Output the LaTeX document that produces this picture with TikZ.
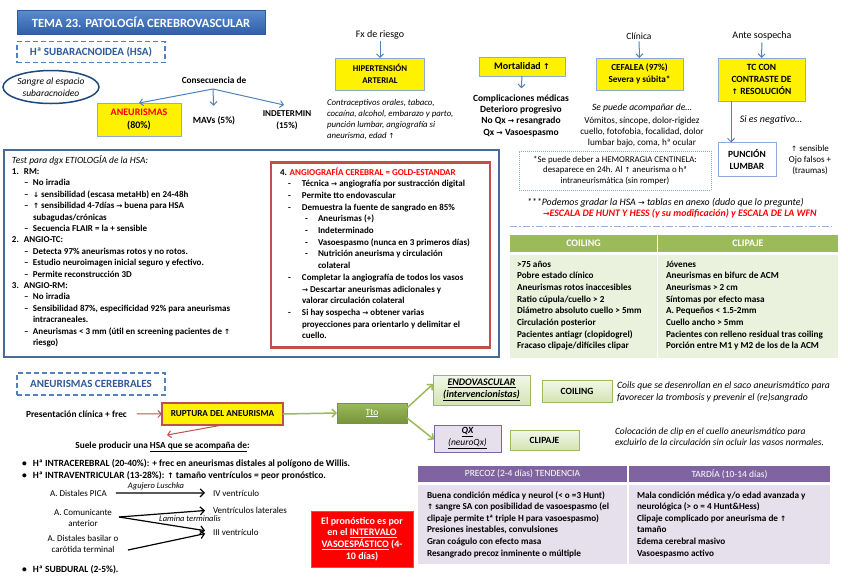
\documentclass[tikz,border=0pt]{standalone}
\usepackage{fontspec}
\usepackage{graphicx}
\setmainfont{Carlito}
\newfontfamily\symf{DejaVu Sans}
\usetikzlibrary{arrows.meta,shapes.geometric}
\newcommand\fs[2]{\fontsize{#1}{#2}\selectfont}
\newcommand\ua{{\symf\scalebox{0.8}{↑}}}
\newcommand\ra{{\symf\scalebox{0.8}{→}}}
\newcommand\da{{\symf\scalebox{0.8}{↓}}}
\newcommand\dsh{\makebox[9pt][l]{–}}
\newcommand\hy{\makebox[14pt][l]{-}}
\newcommand\hyb{\makebox[13pt][l]{-}}
\definecolor{ablue}{HTML}{4F81BD}
\definecolor{dblue}{HTML}{1F497D}
\definecolor{hblue}{HTML}{2E5A9C}
\definecolor{tb1}{HTML}{5B8BD0}
\definecolor{tb2}{HTML}{2F5FA8}
\definecolor{ybord}{HTML}{8EAADB}
\definecolor{rbord}{HTML}{C0504D}
\definecolor{boxc}{HTML}{4A6A9A}
\definecolor{gh}{HTML}{9BBB59}
\definecolor{gb}{HTML}{EAF1DD}
\definecolor{gl1}{HTML}{F2F7E8}
\definecolor{gl2}{HTML}{D4E4B3}
\definecolor{ph}{HTML}{8064A2}
\definecolor{pb}{HTML}{E5E0EC}
\definecolor{tto}{HTML}{77933C}
\begin{document}
\begin{tikzpicture}[x=1pt,y=-1pt,
  every node/.style={inner sep=0pt,outer sep=0pt},
  bt/.style={font=\fs{9}{11.5}\bfseries},
  tbt/.style={font=\fs{9.2}{11.5}\bfseries},
  rt/.style={font=\fs{9.2}{11}},
  it/.style={font=\fs{8.8}{10}\itshape},
  L/.style={anchor=base west},
  C/.style={anchor=base},
  ybx/.style={draw=ybord, fill=yellow, line width=0.8pt, align=center},
  dbox/.style={draw=ablue, line width=1.5pt, dash pattern=on 5pt off 3pt, text=hblue, font=\fs{11}{13}\bfseries},
  gbx/.style={draw=gh, line width=0.8pt, top color=gl1, bottom color=gl2, align=center},
  barr/.style={-{Straight Barb[length=3.5pt,width=7pt]}, draw=ablue, line width=1pt},
  rarr/.style={-{Straight Barb[length=3.5pt,width=7pt]}, draw=rbord, line width=1pt},
  garr/.style={-{Straight Barb[length=4pt,width=8pt]}, draw=gh, line width=1.5pt},
  karr/.style={-{Straight Barb[length=4pt,width=8pt]}, draw=black, line width=1.2pt},
  dt/.style={font=\fs{9}{11}}]
\fill[white] (0,0) rectangle (848,587);
\useasboundingbox (0,0) rectangle (848,587);

% ---------- header ----------
\node[draw=hblue, line width=0.8pt, top color=tb1, bottom color=tb2, text=white,
  minimum width=248, minimum height=24, font=\fs{12.5}{14}\bfseries] (title) at (141,22) {TEMA 23. PATOLOGÍA CEREBROVASCULAR};
\node[dbox, minimum width=148, minimum height=21] (hsa) at (91,52) {Hª SUBARACNOIDEA (HSA)};
\node[ellipse, draw=dblue, line width=1.5pt, inner xsep=-8pt, inner ysep=-2pt, minimum width=96, minimum height=33, align=center,
  font=\fs{9.5}{12}\itshape] (sangre) at (51,87) {Sangre al espacio\\subaracnoideo};

% ---------- consecuencia ----------
\node[font=\fs{9.3}{11}\bfseries] (cons) at (214,80) {Consecuencia de};
\coordinate (hub) at (213,89);
\node[ybx, minimum width=84, minimum height=33, font=\fs{10}{13}\bfseries] (aneu) at (139,119.5) {\textcolor{red}{ANEURISMAS}\\(80\%)};
\node[font=\fs{9.5}{11}\bfseries] (mavs) at (214,121) {MAVs (5\%)};
\node[align=center, font=\fs{9}{12.5}\bfseries] (indet) at (287,120.5) {INDETERMIN\\(15\%)};
\coordinate (indtip) at (284,105);
\draw[barr] (hub) -- (aneu.north);
\draw[barr, shorten >=11pt] (hub) -- (mavs.north);
\draw[barr] (hub) -- (indtip);

% ---------- factores ----------
\node[font=\fs{10}{11}] (fx) at (380,35) {Fx de riesgo};
\node[ybx, minimum width=89, minimum height=32, font=\fs{8.8}{12}\bfseries] (hta) at (380,74) {HIPERTENSIÓN\\ARTERIAL};
\draw[barr, shorten <=2pt] (fx.south) -- (hta.north);
\node[L, it] (h1) at (327,105) {Contraceptivos orales, tabaco,};
\node[L, it] (h2) at (327,116) {cocaína, alcohol, embarazo y parto,};
\node[L, it] (h3) at (327,127) {punción lumbar, angiografía si};
\node[L, it] (h4) at (327,138) {aneurisma, edad \ua};

\node[ybx, minimum width=86, minimum height=19, font=\fs{10}{11}\bfseries] (mort) at (522,66.5) {Mortalidad \ua};
\node[C, font=\fs{9.5}{11}\bfseries] (c1) at (521,101) {Complicaciones médicas};
\node[C, font=\fs{9.5}{11}\bfseries] (c2) at (521,112.3) {Deterioro progresivo};
\node[C, font=\fs{9.5}{11}\bfseries] (c3) at (521,123.6) {No Qx \ra{} resangrado};
\node[C, font=\fs{9.5}{11}\bfseries] (c4) at (521,135) {Qx \ra{} Vasoespasmo};
\draw[barr, shorten >=6pt] (mort.south) -- (c1.north);

\node[font=\fs{9.5}{11}] (clin) at (639,36) {Clínica};
\node[ybx, minimum width=87, minimum height=32, font=\fs{9.2}{12}\bfseries] (cef) at (639.5,74) {CEFALEA (97\%)\\Severa y súbita*};
\draw[barr, shorten <=2pt] (clin.south) -- (cef.north);
\node[C, font=\fs{9.6}{11}\itshape] (acomp) at (642,110) {Se puede acompañar de…};
\node[C, rt] (v1) at (642,123) {Vómitos, síncope, dolor-rigidez};
\node[C, rt] (v2) at (642,134) {cuello, fotofobia, focalidad, dolor};
\node[C, rt] (v3) at (642,145) {lumbar bajo, coma, hª ocular};

\node[font=\fs{10}{11}] (ante) at (762,36) {Ante sospecha};
\node[ybx, minimum width=87, minimum height=43, font=\fs{9.5}{12}\bfseries] (tc) at (761.5,79.5) {TC CON\\CONTRASTE DE\\\ua{} RESOLUCIÓN};
\draw[barr, shorten <=2pt] (ante.south) -- (tc.north);
\node[font=\fs{10}{11}\itshape] (neg) at (771,120) {Si es negativo…};
\node[draw=ybord, line width=1pt, fill=white, minimum width=58, minimum height=34, align=center,
  font=\fs{9.5}{12.5}\bfseries] (pl) at (747,159.5) {PUNCIÓN\\LUMBAR};
\coordinate (tcb) at (731,101);
\draw[barr] (tcb) -- (tcb |- pl.north);
\node[align=center, font=\fs{9}{10.7}] (sens) at (810,160) {\ua{} sensible\\Ojo falsos +\\(traumas)};

\node[draw=ablue!70, line width=1pt, dash pattern=on 1pt off 1pt, minimum width=192, minimum height=39,
  align=center, font=\fs{8.8}{10.5}] (cent) at (615,170.5) {*Se puede deber a HEMORRAGIA CENTINELA:\\desaparece en 24h. Al \ua{} aneurisma o hª\\intraneurismática (sin romper)};
\node[L, font=\fs{9.9}{11}\itshape] (grad) at (527,205) {***Podemos gradar la HSA \ra{} tablas en anexo (dudo que lo pregunte)};
\node[L, font=\fs{9.9}{11}\bfseries\itshape, text=red] (esc) at (543,216.5) {\ra ESCALA DE HUNT Y HESS (y su modificación) y ESCALA DE LA WFN};
\coordinate (dd1) at (510,226); \coordinate (dd2) at (832,226);
\draw[ablue!60, line width=1pt, dash pattern=on 7pt off 2pt on 2pt off 2pt] (dd1) -- (dd2);

% ---------- coiling / clipaje table ----------
\node[fill=gh, minimum width=147, minimum height=17, text=white, font=\fs{10}{11}\bfseries] (coilh) at (583.5,243.5) {COILING};
\node[fill=gh, minimum width=180, minimum height=17, text=white, font=\fs{10}{11}\bfseries] (cliph) at (748,243.5) {CLIPAJE};
\node[fill=gb, minimum width=147, minimum height=103] (coilb) at (583.5,306.5) {};
\node[fill=gb, minimum width=180, minimum height=103] (clipb) at (748,306.5) {};
\node[L, tbt] (g1) at (517,267) {>75 años};
\node[L, tbt] (g2) at (517,278.7) {Pobre estado clínico};
\node[L, tbt] (g3) at (517,290.4) {Aneurismas rotos inaccesibles};
\node[L, tbt] (g4) at (517,302.1) {Ratio cúpula/cuello > 2};
\node[L, tbt] (g5) at (517,313.8) {Diámetro absoluto cuello > 5mm};
\node[L, tbt] (g6) at (517,325.5) {Circulación posterior};
\node[L, tbt] (g7) at (517,337.2) {Pacientes antiagr (clopidogrel)};
\node[L, tbt] (g8) at (517,348.9) {Fracaso clipaje/difíciles clipar};
\node[L, tbt] (k1) at (666,267) {Jóvenes};
\node[L, tbt] (k2) at (666,278.7) {Aneurismas en bifurc de ACM};
\node[L, tbt] (k3) at (666,290.4) {Aneurismas > 2 cm};
\node[L, tbt] (k4) at (666,302.1) {Síntomas por efecto masa};
\node[L, tbt] (k5) at (666,313.8) {A. Pequeños < 1.5-2mm};
\node[L, tbt] (k6) at (666,325.5) {Cuello ancho > 5mm};
\node[L, tbt] (k7) at (666,337.2) {Pacientes con relleno residual tras coiling};
\node[L, tbt] (k8) at (666,348.9) {Porción entre M1 y M2 de los de la ACM};

% ---------- test box ----------
\node[draw=boxc, line width=1.7pt, minimum width=495, minimum height=207] (testbox) at (251.5,253.5) {};
\node[L, font=\fs{9.5}{11}\itshape] (t0) at (12,163) {Test para dgx ETIOLOGÍA de la HSA:};
\node[L, bt] (t1) at (12,174.4) {\makebox[12pt][l]{1.}RM:};
\node[L, bt] (t2) at (24,185.8) {\dsh No irradia};
\node[L, bt] (t3) at (24,197.2) {\dsh\da{} sensibilidad (escasa metaHb) en 24-48h};
\node[L, bt] (t4) at (24,208.6) {\dsh\ua{} sensibilidad 4-7días \ra{} buena para HSA};
\node[L, bt] (t5) at (33,220) {subagudas/crónicas};
\node[L, bt] (t6) at (24,231.4) {\dsh Secuencia FLAIR = la + sensible};
\node[L, bt] (t7) at (12,242.8) {\makebox[12pt][l]{2.}ANGIO-TC:};
\node[L, bt] (t8) at (24,254.2) {\dsh Detecta 97\% aneurismas rotos y no rotos.};
\node[L, bt] (t9) at (24,265.6) {\dsh Estudio neuroimagen inicial seguro y efectivo.};
\node[L, bt] (t10) at (24,277) {\dsh Permite reconstrucción 3D};
\node[L, bt] (t11) at (12,288.4) {\makebox[12pt][l]{3.}ANGIO-RM:};
\node[L, bt] (t12) at (24,299.8) {\dsh No irradia};
\node[L, bt] (t13) at (24,311.2) {\dsh Sensibilidad 87\%, especificidad 92\% para aneurismas};
\node[L, bt] (t14) at (33,322.6) {intracraneales.};
\node[L, bt] (t15) at (24,334) {\dsh Aneurismas < 3 mm (útil en screening pacientes de \ua};
\node[L, bt] (t16) at (33,345.4) {riesgo)};

\node[draw=rbord, line width=2.2pt, fill=white, minimum width=219, minimum height=185] (angbox) at (380.5,255) {};
\node[L, bt] (r0) at (280,175) {4. \textcolor{red}{ANGIOGRAFÍA CEREBRAL = GOLD-ESTANDAR}};
\node[L, bt] (r1) at (288,186.7) {\hy Técnica \ra{} angiografía por sustracción digital};
\node[L, bt] (r2) at (288,198.4) {\hy Permite tto endovascular};
\node[L, bt] (r3) at (288,210.1) {\hy Demuestra la fuente de sangrado en 85\%};
\node[L, bt] (r4) at (305,221.8) {\hyb Aneurismas (+)};
\node[L, bt] (r5) at (305,233.5) {\hyb Indeterminado};
\node[L, bt] (r6) at (305,245.2) {\hyb Vasoespasmo (nunca en 3 primeros días)};
\node[L, bt] (r7) at (305,256.9) {\hyb Nutrición aneurisma y circulación};
\node[L, bt] (r8) at (318,268.6) {colateral};
\node[L, bt] (r9) at (288,280.3) {\hy Completar la angiografía de todos los vasos};
\node[L, bt] (r10) at (302,292) {\ra{} Descartar aneurismas adicionales y};
\node[L, bt] (r11) at (302,303.7) {valorar circulación colateral};
\node[L, bt] (r12) at (288,315.4) {\hy Si hay sospecha \ra{} obtener varias};
\node[L, bt] (r13) at (302,327.1) {proyecciones para orientarlo y delimitar el};
\node[L, bt] (r14) at (302,338.8) {cuello.};

% ---------- aneurismas cerebrales ----------
\node[dbox, minimum width=148, minimum height=22] (acer) at (91,384) {ANEURISMAS CEREBRALES};
\node[L, font=\fs{9.4}{11}\bfseries] (pres) at (26,417) {Presentación clínica + frec};
\node[fill=yellow, draw=rbord, line width=1.6pt, minimum width=121, minimum height=22, font=\fs{9.2}{11}\bfseries] (rupt) at (222.5,414) {RUPTURA DEL ANEURISMA};
\draw[rarr, shorten <=10pt] (pres.east) -- (rupt.west);
\coordinate (rtip) at (167,435);
\draw[rarr] (rupt.south) -- (rtip);
\node[C, font=\fs{9.3}{11}\bfseries] (suele) at (162.5,448) {Suele producir una \underline{HSA que se acompaña de}:};

\node[draw=tto, line width=0.8pt, top color=gh, bottom color=tto, minimum width=70, minimum height=20,
  text=white, font=\fs{9.5}{11}] (tto) at (372,413) {\underline{Tto}};
\draw[garr] (rupt.east) -- (tto.west);
\node[gbx, minimum width=97, minimum height=30, font=\fs{10}{11.5}\bfseries\itshape] (endo) at (481.5,390) {\underline{ENDOVASCULAR}\\\underline{(intervencionistas)}};
\node[draw=ph, line width=0.8pt, fill=pb, minimum width=67, minimum height=27, align=center,
  font=\fs{9.5}{12}\itshape] (qx) at (467.5,438.5) {\textbf{\underline{QX}}\\\underline{(neuroQx)}};
\draw[garr] ([yshift=5pt]tto.east) -- ([yshift=6pt]endo.west);
\draw[garr] ([yshift=-5pt]tto.east) -- ([yshift=-1pt]qx.west);
\node[gbx, minimum width=70, minimum height=22, font=\fs{9.5}{10}\bfseries] (coil) at (577,391) {COILING};
\node[gbx, minimum width=69, minimum height=20, font=\fs{9.5}{10}\bfseries] (clip) at (544.5,440) {CLIPAJE};
\node[L, font=\fs{9.7}{11}\itshape] (cd1) at (617,388) {Coils que se desenrollan en el saco aneurismático para};
\node[L, font=\fs{9.7}{11}\itshape] (cd2) at (617,400) {favorecer la trombosis y prevenir el (re)sangrado};
\node[L, font=\fs{9.5}{11}\itshape] (cl1) at (615,434) {Colocación de clip en el cuello aneurismático para};
\node[L, font=\fs{9.5}{11}\itshape] (cl2) at (615,445) {excluirlo de la circulación sin ocluir las vasos normales.};

% bullets
\node[L, font=\fs{9.5}{11}\bfseries] (b1) at (22,466) {\makebox[11pt][l]{•}Hª INTRACEREBRAL (20-40\%): + frec en aneurismas distales al polígono de Willis.};
\node[L, font=\fs{9.5}{11}\bfseries] (b2) at (22,478) {\makebox[11pt][l]{•}Hª INTRAVENTRICULAR (13-28\%): \ua{} tamaño ventrículos = peor pronóstico.};
\node[L, font=\fs{9.5}{11}\bfseries] (b3) at (22,572) {\makebox[11pt][l]{•}Hª SUBDURAL (2-5\%).};

% ventricle diagram
\node[L, dt] (pica) at (50,496) {A. Distales PICA};
\node[font=\fs{8.5}{10}\itshape] (lus) at (156,486) {Agujero Luschka};
\node[L, dt] (iv) at (213,496) {IV ventrículo};
\draw[karr, shorten <=9pt, shorten >=8pt] (pica.east) -- (iv.west);
\node[align=center, dt] (acom) at (83,518) {A. Comunicante\\anterior};
\node[L, dt] (lat) at (213,513) {Ventrículos laterales};
\node[L, dt] (iii) at (213,535) {III ventrículo};
\node[font=\fs{8.5}{10}\itshape] (lam) at (190,519) {Lamina terminalis};
\node[align=center, dt] (bas) at (83,544) {A. Distales basilar o\\carótida terminal};
\coordinate (acs) at (119,517);
\coordinate (bss) at (128,550);
\draw[karr, shorten >=8pt] (acs) -- (lat.west);
\draw[karr, shorten >=8pt] (acs) -- (iii.west);
\draw[karr, shorten >=8pt] (bss) -- (iii.west);

% pronostico
\node[fill=red, draw=red!75!white, line width=0.8pt, minimum width=102, minimum height=56, align=center, text=white,
  font=\fs{10}{11.7}\bfseries] (pron) at (362,539) {El pronóstico es por\\en el \underline{INTERVALO}\\\underline{VASOESPÁSTICO} (4-\\10 días)};

% precoz / tardia table
\node[fill=ph, minimum width=209, minimum height=16, text=white, font=\fs{9.5}{11}] (preh) at (522.5,474) {PRECOZ (2-4 días) TENDENCIA};
\node[fill=ph, minimum width=201, minimum height=16, text=white, font=\fs{9.5}{11}] (tarh) at (729.5,474) {TARDÍA (10-14 días)};
\node[fill=pb, minimum width=209, minimum height=79] (preb) at (522.5,524.5) {};
\node[fill=pb, minimum width=201, minimum height=79] (tarb) at (729.5,524.5) {};
\node[L, tbt] (p1) at (427,498) {Buena condición médica y neurol (< o =3 Hunt)};
\node[L, tbt] (p2) at (427,509.6) {\ua{} sangre SA con posibilidad de vasoespasmo (el};
\node[L, tbt] (p3) at (427,521.2) {clipaje permite tª triple H para vasoespasmo)};
\node[L, tbt] (p4) at (427,532.8) {Presiones inestables, convulsiones};
\node[L, tbt] (p5) at (427,544.4) {Gran coágulo con efecto masa};
\node[L, tbt] (p6) at (427,556) {Resangrado precoz inminente o múltiple};
\node[L, tbt] (q1) at (637,498) {Mala condición médica y/o edad avanzada y};
\node[L, tbt] (q2) at (637,509.6) {neurológica (> o = 4 Hunt\&Hess)};
\node[L, tbt] (q3) at (637,521.2) {Clipaje complicado por aneurisma de \ua};
\node[L, tbt] (q4) at (637,532.8) {tamaño};
\node[L, tbt] (q5) at (637,544.4) {Edema cerebral masivo};
\node[L, tbt] (q6) at (637,556) {Vasoespasmo activo};
\end{tikzpicture}
\end{document}
